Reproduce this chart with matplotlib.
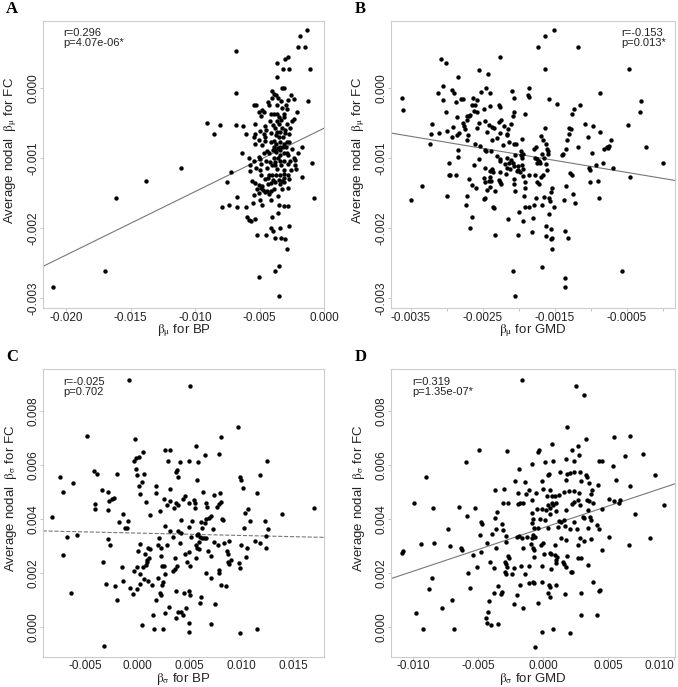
import numpy as np
import matplotlib
matplotlib.use("Agg")
import matplotlib.pyplot as plt
import matplotlib.transforms as mtransforms
from matplotlib.ticker import FixedLocator, FixedFormatter

plt.rcParams['font.family'] = ['Liberation Sans', 'DejaVu Sans']
plt.rcParams['mathtext.fontset'] = 'stix'

# panel A: beta_mu BP vs beta_mu FC
a_pts = [
    (-0.00132, 0.00082), (-0.00191, 0.00074), (-0.00201, 0.00058), (-0.00147, 0.00058),
    (-0.00682, 0.00053), (-0.00280, 0.00044), (-0.00303, 0.00041), (-0.00365, 0.00035),
    (-0.00111, 0.00027), (-0.00324, 0.00026), (-0.00275, 0.00027), (-0.00367, 0.00015),
    (-0.00687, -0.00007), (-0.00129, -0.00019), (-0.00406, -0.00004), (-0.00311, 0.00000),
    (-0.00329, -0.00001), (-0.00393, -0.00009), (-0.00372, -0.00010), (-0.00406, -0.00014),
    (-0.00360, -0.00015), (-0.00260, -0.00010), (-0.00239, -0.00016), (-0.00285, -0.00018),
    (-0.00436, -0.00021), (-0.00337, -0.00019), (-0.00528, -0.00025), (-0.00544, -0.00025),
    (-0.00429, -0.00025), (-0.00370, -0.00024), (-0.00298, -0.00025), (-0.00329, -0.00029),
    (-0.00482, -0.00032), (-0.00508, -0.00034), (-0.00464, -0.00034), (-0.00293, -0.00031),
    (-0.00411, -0.00038), (-0.00390, -0.00038), (-0.00365, -0.00038), (-0.00313, -0.00037),
    (-0.00216, -0.00035), (-0.00490, -0.00040), (-0.00349, -0.00042), (-0.00316, -0.00042),
    (-0.00239, -0.00044), (-0.00539, -0.00052), (-0.00418, -0.00047), (-0.00367, -0.00048),
    (-0.00339, -0.00046), (-0.00252, -0.00048), (-0.00685, -0.00053), (-0.00631, -0.00055),
    (-0.00457, -0.00054), (-0.00398, -0.00053), (-0.00354, -0.00052), (-0.00288, -0.00052),
    (-0.00380, -0.00058), (-0.00329, -0.00058), (-0.00303, -0.00060), (-0.00270, -0.00057),
    (-0.00495, -0.00062), (-0.00452, -0.00060), (-0.00367, -0.00063), (-0.00342, -0.00063),
    (-0.00605, -0.00066), (-0.00539, -0.00066), (-0.00470, -0.00066), (-0.00411, -0.00065),
    (-0.00375, -0.00067), (-0.00306, -0.00065), (-0.00272, -0.00066), (-0.00546, -0.00071),
    (-0.00462, -0.00071), (-0.00354, -0.00071), (-0.00321, -0.00070), (-0.00503, -0.00075),
    (-0.00462, -0.00076), (-0.00411, -0.00077), (-0.00388, -0.00076), (-0.00342, -0.00077),
    (-0.00290, -0.00077), (-0.00541, -0.00080), (-0.00482, -0.00082), (-0.00375, -0.00081),
    (-0.00313, -0.00081), (-0.00272, -0.00078), (-0.00175, -0.00085), (-0.00393, -0.00084),
    (-0.00362, -0.00086), (-0.00342, -0.00085), (-0.00324, -0.00084), (-0.00298, -0.00085),
    (-0.00444, -0.00090), (-0.00400, -0.00089), (-0.00380, -0.00089), (-0.00344, -0.00089),
    (-0.00252, -0.00088), (-0.00201, -0.00093), (-0.00639, -0.00093), (-0.00464, -0.00093),
    (-0.00426, -0.00093), (-0.00372, -0.00092), (-0.00313, -0.00093), (-0.00290, -0.00093),
    (-0.00585, -0.00100), (-0.00508, -0.00099), (-0.00495, -0.00102), (-0.00393, -0.00100),
    (-0.00362, -0.00101), (-0.00239, -0.00101), (-0.00342, -0.00096), (-0.00278, -0.00096),
    (-0.00546, -0.00104), (-0.00452, -0.00105), (-0.00421, -0.00106), (-0.00380, -0.00106),
    (-0.00347, -0.00105), (-0.00316, -0.00104), (-0.00265, -0.00104), (-0.00229, -0.00103),
    (-0.00098, -0.00107), (-0.00577, -0.00111), (-0.00488, -0.00109), (-0.00406, -0.00111),
    (-0.00385, -0.00111), (-0.00334, -0.00110), (-0.00283, -0.00109), (-0.00226, -0.00111),
    (-0.00726, -0.00121), (-0.00577, -0.00119), (-0.00528, -0.00115), (-0.00495, -0.00117),
    (-0.00444, -0.00114), (-0.00367, -0.00116), (-0.00316, -0.00117), (-0.00260, -0.00118),
    (-0.00221, -0.00116), (-0.00488, -0.00124), (-0.00426, -0.00124), (-0.00406, -0.00125),
    (-0.00375, -0.00125), (-0.00347, -0.00124), (-0.00313, -0.00123), (-0.00285, -0.00124),
    (-0.00751, -0.00134), (-0.00559, -0.00133), (-0.00534, -0.00136), (-0.00462, -0.00131),
    (-0.00436, -0.00129), (-0.00400, -0.00132), (-0.00354, -0.00132), (-0.00329, -0.00133),
    (-0.00313, -0.00129), (-0.00272, -0.00131), (-0.00170, -0.00128), (-0.00503, -0.00139),
    (-0.00482, -0.00140), (-0.00436, -0.00138), (-0.00413, -0.00136), (-0.00380, -0.00135),
    (-0.00347, -0.00137), (-0.00316, -0.00134), (-0.00521, -0.00144), (-0.00490, -0.00143),
    (-0.00475, -0.00146), (-0.00447, -0.00148), (-0.00388, -0.00144), (-0.00329, -0.00144),
    (-0.00278, -0.00143), (-0.00680, -0.00156), (-0.00544, -0.00153), (-0.00505, -0.00151),
    (-0.00457, -0.00149), (-0.00431, -0.00152), (-0.00411, -0.00148), (-0.00360, -0.00154),
    (-0.00083, -0.00157), (-0.00495, -0.00160), (-0.00411, -0.00161), (-0.00738, -0.00167),
    (-0.00680, -0.00170), (-0.00608, -0.00171), (-0.00554, -0.00165), (-0.00480, -0.00168),
    (-0.00354, -0.00167), (-0.00313, -0.00169), (-0.00283, -0.00169), (-0.00598, -0.00184),
    (-0.00580, -0.00189), (-0.00567, -0.00191), (-0.00534, -0.00187), (-0.00406, -0.00185),
    (-0.00362, -0.00179), (-0.00518, -0.00210), (-0.00452, -0.00211), (-0.00411, -0.00201),
    (-0.00400, -0.00204), (-0.00342, -0.00201), (-0.00272, -0.00198), (-0.00385, -0.00215),
    (-0.00339, -0.00215), (-0.00303, -0.00216), (-0.00290, -0.00231), (-0.00383, -0.00261),
    (-0.00349, -0.00255), (-0.00508, -0.00270), (-0.00354, -0.00297),
    (-0.02097, -0.00284), (-0.01700, -0.00262), (-0.01615, -0.00158), (-0.01380, -0.00133),
    (-0.01113, -0.00114), (-0.00905, -0.00050), (-0.00854, -0.00066), (-0.00810, -0.00053),
    (-0.00792, -0.00171),
]

# panel B: beta_mu GMD vs beta_mu FC
b_pts = [
    (-0.002255, 0.00044), (-0.003080, 0.00041), (-0.003010, 0.00035), (-0.002547, 0.00025),
    (-0.002422, 0.00019), (-0.002848, 0.00015), (-0.003056, 0.00003), (-0.002931, -0.00003),
    (-0.002894, -0.00008), (-0.003126, -0.00008), (-0.002450, 0.00000), (-0.002399, -0.00008),
    (-0.002529, -0.00006), (-0.002098, -0.00005), (-0.001853, -0.00001), (-0.001876, -0.00010),
    (-0.001862, -0.00013), (-0.003617, -0.00014), (-0.003603, -0.00032), (-0.003047, -0.00018),
    (-0.002871, -0.00021), (-0.002806, -0.00016), (-0.002779, -0.00016), (-0.002640, -0.00015),
    (-0.002584, -0.00017), (-0.002649, -0.00025), (-0.002603, -0.00025), (-0.002061, -0.00015),
    (-0.003015, -0.00035), (-0.002862, -0.00042), (-0.002723, -0.00040), (-0.002695, -0.00041),
    (-0.002677, -0.00039), (-0.002714, -0.00046), (-0.002621, -0.00033), (-0.002575, -0.00035),
    (-0.002478, -0.00031), (-0.002404, -0.00026), (-0.002279, -0.00025), (-0.002255, -0.00027),
    (-0.002547, -0.00050), (-0.002473, -0.00047), (-0.002408, -0.00053), (-0.002376, -0.00056),
    (-0.002343, -0.00057), (-0.002070, -0.00035), (-0.002084, -0.00040), (-0.001908, -0.00038),
    (-0.003200, -0.00052), (-0.002908, -0.00056), (-0.002779, -0.00051), (-0.002760, -0.00055),
    (-0.002251, -0.00046), (-0.002274, -0.00049), (-0.002200, -0.00054), (-0.002112, -0.00052),
    (-0.002144, -0.00059), (-0.003219, -0.00066), (-0.003107, -0.00065), (-0.003001, -0.00062),
    (-0.002862, -0.00067), (-0.002834, -0.00065), (-0.002709, -0.00068), (-0.002723, -0.00075),
    (-0.002742, -0.00059), (-0.002575, -0.00058), (-0.002445, -0.00063), (-0.002260, -0.00065),
    (-0.002168, -0.00066), (-0.002158, -0.00068), (-0.003228, -0.00080), (-0.002922, -0.00071),
    (-0.002371, -0.00075), (-0.002306, -0.00072), (-0.002140, -0.00077), (-0.002603, -0.00081),
    (-0.002533, -0.00083), (-0.002468, -0.00089), (-0.002455, -0.00090), (-0.002381, -0.00090),
    (-0.002214, -0.00082), (-0.002066, -0.00080), (-0.002038, -0.00080), (-0.001959, -0.00073),
    (-0.001792, -0.00087), (-0.002839, -0.00089), (-0.002839, -0.00099), (-0.002547, -0.00102),
    (-0.002306, -0.00098), (-0.002260, -0.00102), (-0.002260, -0.00105), (-0.002158, -0.00100),
    (-0.002112, -0.00103), (-0.002140, -0.00107), (-0.002080, -0.00107), (-0.002052, -0.00096),
    (-0.001973, -0.00096), (-0.001968, -0.00090), (-0.001936, -0.00094), (-0.001959, -0.00100),
    (-0.002973, -0.00107), (-0.002621, -0.00111), (-0.002468, -0.00114), (-0.002376, -0.00117),
    (-0.002404, -0.00119), (-0.002357, -0.00120), (-0.002191, -0.00109), (-0.002168, -0.00114),
    (-0.002117, -0.00116), (-0.002066, -0.00112), (-0.002005, -0.00112), (-0.002005, -0.00118),
    (-0.001950, -0.00111), (-0.001945, -0.00116), (-0.002968, -0.00124), (-0.002950, -0.00125),
    (-0.002871, -0.00124), (-0.002482, -0.00129), (-0.002399, -0.00128), (-0.002376, -0.00116),
    (-0.002255, -0.00120), (-0.002172, -0.00123), (-0.002029, -0.00119), (-0.001987, -0.00120),
    (-0.001936, -0.00126), (-0.001862, -0.00125), (-0.002691, -0.00131), (-0.002279, -0.00132),
    (-0.002265, -0.00134), (-0.002246, -0.00137), (-0.002649, -0.00139), (-0.002593, -0.00143),
    (-0.002473, -0.00135), (-0.002413, -0.00133), (-0.002385, -0.00133), (-0.002445, -0.00146),
    (-0.002399, -0.00142), (-0.002334, -0.00148), (-0.002066, -0.00137), (-0.002061, -0.00131),
    (-0.001913, -0.00135), (-0.001917, -0.00143), (-0.003348, -0.00140), (-0.002996, -0.00154),
    (-0.002714, -0.00154), (-0.002487, -0.00159), (-0.002468, -0.00157), (-0.001922, -0.00154),
    (-0.002052, -0.00148), (-0.003496, -0.00161), (-0.002728, -0.00168), (-0.002357, -0.00170),
    (-0.002348, -0.00172), (-0.001992, -0.00177), (-0.001917, -0.00170), (-0.001853, -0.00170),
    (-0.001792, -0.00168), (-0.002644, -0.00184), (-0.002154, -0.00188), (-0.001945, -0.00191),
    (-0.001806, -0.00186), (-0.002677, -0.00201), (-0.002330, -0.00211), (-0.002015, -0.00210),
    (-0.001811, -0.00206), (-0.002075, -0.00262), (-0.002052, -0.00298),
    (-0.001510, 0.00082), (-0.001639, 0.00074), (-0.001732, 0.00058), (-0.001176, 0.00058),
    (-0.001635, 0.00026), (-0.000463, 0.00027), (-0.000871, -0.00007), (-0.001579, -0.00016),
    (-0.001473, -0.00023), (-0.000297, -0.00019), (-0.000320, -0.00035), (-0.001148, -0.00025),
    (-0.001232, -0.00031), (-0.001264, -0.00038), (-0.000477, -0.00053), (-0.001079, -0.00052),
    (-0.000963, -0.00055), (-0.000871, -0.00063), (-0.001042, -0.00070), (-0.001297, -0.00058),
    (-0.001269, -0.00059), (-0.001306, -0.00066), (-0.001334, -0.00075), (-0.001343, -0.00088),
    (-0.001380, -0.00094), (-0.001399, -0.00096), (-0.001639, -0.00058), (-0.001686, -0.00069),
    (-0.001667, -0.00075), (-0.001621, -0.00080), (-0.001764, -0.00085), (-0.001612, -0.00087),
    (-0.001672, -0.00094), (-0.001598, -0.00091), (-0.001598, -0.00095), (-0.001176, -0.00085),
    (-0.000977, -0.00093), (-0.000820, -0.00087), (-0.000760, -0.00086), (-0.000746, -0.00083),
    (-0.000718, -0.00075), (-0.000773, -0.00084), (-0.000236, -0.00085), (0.000000, -0.00107),
    (-0.001774, -0.00100), (-0.001741, -0.00102), (-0.001713, -0.00104), (-0.001750, -0.00108),
    (-0.001625, -0.00109), (-0.001612, -0.00118), (-0.001704, -0.00107), (-0.001644, -0.00100),
    (-0.000824, -0.00107), (-0.000695, -0.00114), (-0.000931, -0.00111), (-0.001024, -0.00114),
    (-0.001005, -0.00118), (-0.001287, -0.00122), (-0.001260, -0.00124), (-0.000454, -0.00128),
    (-0.000903, -0.00133), (-0.001014, -0.00135), (-0.001778, -0.00125), (-0.001741, -0.00135),
    (-0.001723, -0.00137), (-0.001686, -0.00128), (-0.001667, -0.00124), (-0.001533, -0.00143),
    (-0.001556, -0.00149), (-0.001343, -0.00141), (-0.001241, -0.00152), (-0.001213, -0.00164),
    (-0.001366, -0.00160), (-0.001764, -0.00158), (-0.001653, -0.00156), (-0.001574, -0.00157),
    (-0.001561, -0.00162), (-0.000885, -0.00157), (-0.001681, -0.00167), (-0.001510, -0.00171),
    (-0.001584, -0.00180), (-0.001616, -0.00198), (-0.001556, -0.00202), (-0.001556, -0.00216),
    (-0.001621, -0.00212), (-0.001537, -0.00215), (-0.001533, -0.00231), (-0.001357, -0.00205),
    (-0.001311, -0.00215), (-0.001681, -0.00256), (-0.000565, -0.00262), (-0.001352, -0.00271),
    (-0.001352, -0.00284),
]

# panel C: beta_sigma BP vs beta_sigma FC
c_pts = [
    (-0.000802, 0.009167), (-0.004840, 0.007089), (-0.000193, 0.006977), (0.002628, 0.006557),
    (0.003109, 0.006557), (0.000512, 0.006470), (0.000128, 0.006309), (-0.000097, 0.006247),
    (-0.000289, 0.006148), (0.002981, 0.006148), (0.004134, 0.006111), (-0.004135, 0.005777),
    (-0.003847, 0.005654), (-0.001924, 0.005678), (-0.000161, 0.005852), (-0.000065, 0.005629),
    (0.000641, 0.005654), (0.003814, 0.005802), (0.003942, 0.005567), (0.003717, 0.005753),
    (-0.007404, 0.005567), (-0.006218, 0.005320), (-0.007180, 0.005011), (0.000448, 0.005357),
    (0.000192, 0.005233), (0.000224, 0.004936), (-0.003398, 0.005072), (-0.002821, 0.005011),
    (0.001826, 0.005233), (0.001794, 0.004973), (0.003109, 0.005109), (-0.002436, 0.004726),
    (-0.002212, 0.004763), (-0.002757, 0.004652), (-0.004039, 0.004553), (-0.004103, 0.004367),
    (0.000833, 0.004640), (0.002532, 0.004726), (0.002852, 0.004516), (0.003173, 0.004664),
    (0.003493, 0.004417), (0.003750, 0.004577), (0.003910, 0.004516), (-0.002821, 0.004342),
    (0.002179, 0.004293), (0.001217, 0.004145), (-0.001411, 0.004182), (-0.008173, 0.004058),
    (-0.001795, 0.003897), (-0.000866, 0.003909), (-0.001218, 0.003650), (-0.000994, 0.003650),
    (0.002692, 0.003724), (0.003109, 0.003563), (0.003878, 0.003551), (-0.006763, 0.003328),
    (-0.005834, 0.003390), (-0.002821, 0.003266), (-0.002597, 0.003031), (0.003397, 0.003316),
    (0.002083, 0.003303), (0.000256, 0.003068), (0.001057, 0.002920), (0.001250, 0.002870),
    (0.001955, 0.003031), (0.002852, 0.003031), (0.002307, 0.002932), (0.004134, 0.003118),
    (0.000032, 0.002821), (0.000705, 0.002697), (0.000929, 0.002475), (0.001089, 0.002536),
    (0.002275, 0.002611), (0.003589, 0.002561), (-0.007148, 0.002648), (-0.003334, 0.002413),
    (-0.001475, 0.002202), (-0.000289, 0.002079), (-0.000065, 0.002215), (0.000544, 0.002227),
    (0.000801, 0.002289), (0.000897, 0.002413), (0.002371, 0.002240), (0.002596, 0.002240),
    (0.003461, 0.002066), (0.003621, 0.002141), (0.003782, 0.002240), (0.002628, 0.001943),
    (0.000256, 0.001943), (0.000673, 0.001770), (0.001057, 0.001695), (0.001442, 0.001547),
    (0.002019, 0.001794), (0.002467, 0.001671), (0.002403, 0.001547), (-0.003013, 0.001584),
    (-0.002180, 0.001522), (-0.001347, 0.001683), (-0.000738, 0.001436), (-0.000065, 0.001386),
    (-0.000417, 0.001200), (0.000288, 0.001596), (-0.006411, 0.001262), (0.002147, 0.001250),
    (0.002307, 0.001176), (0.003750, 0.001324), (-0.001988, 0.000990), (0.001826, 0.000978),
    (0.003013, 0.000718), (0.002628, 0.000496), (0.003878, 0.000533), (0.003750, 0.000335),
    (0.001474, 0.000446), (0.000480, 0.000075), (0.001570, -0.000086), (0.002500, -0.000098),
    (-0.003238, -0.000729),
    (0.005064, 0.008919), (0.009712, 0.007410), (0.008077, 0.007039), (0.005673, 0.006717),
    (0.007885, 0.006396), (0.006475, 0.006359), (0.005000, 0.006148), (0.005834, 0.006124),
    (0.012500, 0.006148), (0.011763, 0.005617), (0.009904, 0.005567), (0.009968, 0.005431),
    (0.010193, 0.005159), (0.005738, 0.005431), (0.011507, 0.004973), (0.006282, 0.004986),
    (0.007340, 0.004874), (0.007981, 0.004961), (0.004391, 0.004726), (0.004584, 0.004862),
    (0.005000, 0.004602), (0.005481, 0.004701), (0.005545, 0.004602), (0.005545, 0.004392),
    (0.006603, 0.004577), (0.006667, 0.004454), (0.007821, 0.004540), (0.008013, 0.004615),
    (0.007693, 0.004454), (0.010641, 0.004380), (0.010385, 0.004206), (0.013974, 0.004182),
    (0.017019, 0.004392), (0.004199, 0.003971), (0.005289, 0.003922), (0.006122, 0.003872),
    (0.006539, 0.003848), (0.007116, 0.004120), (0.006859, 0.004046), (0.006571, 0.003996),
    (0.006218, 0.003650), (0.008173, 0.003996), (0.008237, 0.003959), (0.010802, 0.003922),
    (0.012244, 0.003922), (0.004936, 0.003711), (0.007308, 0.003637), (0.010289, 0.003650),
    (0.012596, 0.003613), (0.004231, 0.003464), (0.005161, 0.003328), (0.005705, 0.003415),
    (0.005866, 0.003427), (0.006058, 0.003340), (0.006218, 0.003279), (0.006379, 0.003279),
    (0.006571, 0.003303), (0.005898, 0.003155), (0.005673, 0.003031), (0.005738, 0.002907),
    (0.007340, 0.003155), (0.007757, 0.003031), (0.008302, 0.003093), (0.008846, 0.003192),
    (0.010000, 0.003031), (0.011346, 0.003180), (0.011827, 0.003106), (0.012340, 0.003378),
    (0.012404, 0.002932), (0.004936, 0.002784), (0.004584, 0.002685), (0.005898, 0.002883),
    (0.006763, 0.002809), (0.007116, 0.002635), (0.010513, 0.002932), (0.008622, 0.002821),
    (0.008718, 0.002697), (0.009039, 0.002487), (0.008686, 0.002413), (0.008782, 0.002339),
    (0.005641, 0.002561), (0.004808, 0.002388), (0.005097, 0.002264), (0.010449, 0.002586),
    (0.009744, 0.002363), (0.009872, 0.002165), (0.006603, 0.002004), (0.007853, 0.002116),
    (0.007885, 0.001980), (0.007084, 0.001794), (0.008013, 0.001534), (0.008526, 0.001497),
    (0.004456, 0.001250), (0.005000, 0.001337), (0.005032, 0.001188), (0.006090, 0.001114),
    (0.006026, 0.000879), (0.007436, 0.000842), (0.004648, 0.000706), (0.004199, 0.000557),
    (0.004423, 0.000434), (0.005000, 0.000149), (0.007084, 0.000087), (0.005000, -0.000185),
    (0.009840, -0.000247), (0.011507, -0.000098),
]

# panel D: beta_sigma GMD vs beta_sigma FC
d_pts = [
    (-0.001660, 0.009167), (-0.004906, 0.006557), (-0.002785, 0.006520), (-0.005928, 0.006124),
    (-0.008970, 0.005567), (-0.001890, 0.005852), (-0.002171, 0.005406), (-0.001379, 0.005357),
    (-0.003730, 0.005072), (-0.003040, 0.005097), (-0.001941, 0.004973), (-0.001327, 0.004936),
    (-0.001072, 0.005060), (-0.009916, 0.004577), (-0.008433, 0.004392), (-0.006465, 0.004454),
    (-0.005238, 0.004392), (-0.005877, 0.004120), (-0.003091, 0.004602), (-0.002682, 0.004577),
    (-0.001916, 0.004553), (-0.001788, 0.004577), (-0.001532, 0.004602), (-0.003551, 0.004268),
    (-0.003730, 0.004046), (-0.007309, 0.003625), (-0.004778, 0.003872), (-0.004727, 0.003798),
    (-0.004829, 0.003415), (-0.003909, 0.003439), (-0.003602, 0.003613), (-0.003193, 0.003823),
    (-0.003066, 0.003588), (-0.002836, 0.003365), (-0.002043, 0.003340), (-0.001890, 0.003353),
    (-0.001609, 0.003291), (-0.001276, 0.003328), (-0.009353, 0.003056), (-0.008357, 0.003093),
    (-0.007181, 0.002994), (-0.006337, 0.002932), (-0.006261, 0.002833), (-0.005417, 0.002660),
    (-0.004804, 0.002784), (-0.004344, 0.003093), (-0.003628, 0.002907), (-0.002836, 0.003155),
    (-0.010836, 0.002747), (-0.010785, 0.002809), (-0.001583, 0.002907), (-0.002734, 0.002623),
    (-0.002606, 0.002561), (-0.002912, 0.002388), (-0.002836, 0.002314), (-0.002810, 0.002202),
    (-0.005059, 0.002215), (-0.004063, 0.002413), (-0.003756, 0.002190), (-0.002222, 0.002190),
    (-0.001711, 0.002252), (-0.001072, 0.002240), (-0.005775, 0.001992), (-0.002938, 0.002042),
    (-0.002861, 0.001968), (-0.002401, 0.001943), (-0.001404, 0.001943), (-0.008510, 0.001794),
    (-0.005622, 0.001448), (-0.001788, 0.001547), (-0.001072, 0.001609), (-0.008791, 0.001386),
    (-0.003475, 0.001510), (-0.003193, 0.001300), (-0.003245, 0.001200), (-0.003756, 0.001262),
    (-0.002018, 0.001176), (-0.004190, 0.000965), (-0.002274, 0.000842), (-0.001583, 0.000706),
    (-0.007027, 0.000990), (-0.007743, 0.000706), (-0.009788, 0.000508), (-0.004216, 0.000557),
    (-0.004369, 0.000335), (-0.004318, 0.000149), (-0.004011, 0.000050), (-0.003500, 0.000100),
    (-0.009251, -0.000098), (-0.006849, -0.000098),
    (0.002507, 0.008919), (0.003121, 0.008598), (0.001792, 0.007410), (0.000641, 0.006767),
    (0.003249, 0.006965), (0.005396, 0.007039), (0.006674, 0.007089), (-0.000304, 0.006544),
    (-0.000407, 0.006495), (0.002226, 0.006557), (0.002635, 0.006705), (0.002737, 0.006359),
    (-0.000892, 0.006050), (0.000130, 0.006124), (0.000744, 0.006148), (0.001740, 0.006210),
    (0.002379, 0.006148), (0.007619, 0.006396), (0.006290, 0.006322), (0.005319, 0.005951),
    (0.005549, 0.005443), (0.006648, 0.005233), (0.008539, 0.005629), (0.004296, 0.006136),
    (0.004527, 0.006148), (0.000335, 0.005641), (0.000462, 0.005678), (0.001280, 0.005753),
    (0.001817, 0.005654), (0.002073, 0.005691), (0.002354, 0.005753), (0.002788, 0.005753),
    (0.003274, 0.005629), (0.003325, 0.005567), (0.004169, 0.005258), (0.003530, 0.005320),
    (-0.000074, 0.005406), (0.001740, 0.005431), (0.002891, 0.005419), (-0.000560, 0.004973),
    (-0.000049, 0.005097), (0.000284, 0.004850), (0.000514, 0.005072), (0.000693, 0.004850),
    (0.000923, 0.004862), (0.001178, 0.004887), (0.001587, 0.005011), (0.001971, 0.005035),
    (0.002328, 0.005035), (0.002712, 0.004961), (-0.000892, 0.004701), (0.000386, 0.004516),
    (0.000693, 0.004590), (0.000769, 0.004503), (0.000974, 0.004577), (0.001715, 0.004330),
    (0.002175, 0.004540), (0.002354, 0.004640), (0.002635, 0.004701), (0.002814, 0.004516),
    (0.003325, 0.004713), (0.003479, 0.004664), (0.003683, 0.004924), (0.003734, 0.005085),
    (0.003811, 0.004577), (0.005038, 0.004738), (0.005396, 0.004664), (0.005881, 0.004689),
    (0.005830, 0.004602), (0.004501, 0.004355), (0.003402, 0.004342), (-0.000509, 0.004367),
    (-0.000125, 0.004367), (0.000207, 0.004330), (0.000514, 0.004392), (0.000974, 0.004293),
    (-0.000892, 0.004206), (-0.000790, 0.003996), (-0.000867, 0.003835), (-0.000253, 0.003996),
    (0.000514, 0.004169), (0.000130, 0.003959), (0.001229, 0.003922), (0.001332, 0.003897),
    (0.001562, 0.003947), (0.002328, 0.003897), (0.003070, 0.004083), (0.003121, 0.004021),
    (0.003581, 0.004083), (0.003658, 0.003947), (0.004143, 0.003773), (0.004245, 0.003625),
    (-0.000688, 0.003674), (-0.000432, 0.003674), (0.000335, 0.003650), (0.001101, 0.003711),
    (0.001638, 0.003736), (0.002022, 0.003637), (0.002584, 0.003637), (0.003427, 0.003650),
    (0.007031, 0.004169), (0.008156, 0.003291), (0.006571, 0.003031), (0.005038, 0.003328),
    (0.009230, 0.004503), (-0.000816, 0.003402), (-0.000662, 0.003328), (-0.000892, 0.003279),
    (-0.000943, 0.003081), (-0.000177, 0.003031), (-0.000049, 0.003093), (0.000897, 0.003031),
    (0.001332, 0.003303), (0.001715, 0.003217), (0.002814, 0.003279), (0.003121, 0.003180),
    (0.003658, 0.003254), (0.002635, 0.003031), (-0.000688, 0.002846), (-0.000790, 0.002932),
    (0.000054, 0.002697), (0.000590, 0.002685), (0.000514, 0.002722), (0.000897, 0.002660),
    (0.001025, 0.002598), (0.001843, 0.002623), (0.002686, 0.002536), (0.002865, 0.002561),
    (0.004475, 0.002846), (-0.000739, 0.002586), (-0.000125, 0.002264), (0.000616, 0.002153),
    (0.000948, 0.002475), (0.000974, 0.002376), (0.001536, 0.002388), (0.001613, 0.002314),
    (0.001715, 0.002215), (0.002098, 0.002042), (0.002226, 0.002017), (0.003453, 0.002277),
    (-0.000764, 0.001671), (-0.000713, 0.001609), (-0.000125, 0.001671), (0.000437, 0.001547),
    (0.000539, 0.001473), (0.000999, 0.001547), (0.003836, 0.001671), (0.004348, 0.001349),
    (0.004271, 0.001324), (0.000335, 0.001262), (0.000514, 0.001114), (0.001689, 0.001200),
    (0.002891, 0.001237), (-0.000381, 0.000879), (0.002865, 0.000434), (0.004118, 0.000421),
    (-0.000125, -0.000185), (0.000769, -0.000098), (0.002022, -0.000247), (-0.000637, -0.000742),
]

# axis ticks (labels blanked where R drops overlapping ones)
a_xticks = [-0.020, -0.015, -0.010, -0.005, 0.000]
a_xlabels = ['-0.020', '-0.015', '-0.010', '-0.005', '0.000']
mu_yticks = [0.000, -0.001, -0.002, -0.003]
mu_ylabels = ['0.000', '-0.001', '-0.002', '-0.003']
b_xticks = [-0.0035, -0.0030, -0.0025, -0.0020, -0.0015, -0.0010, -0.0005, 0.0]
b_xlabels = ['-0.0035', '', '-0.0025', '', '-0.0015', '', '-0.0005', '']
c_xticks = [-0.005, 0.000, 0.005, 0.010, 0.015]
c_xlabels = ['-0.005', '0.000', '0.005', '0.010', '0.015']
sig_yticks = [0.000, 0.002, 0.004, 0.006, 0.008]
sig_ylabels = ['0.000', '0.002', '0.004', '0.006', '0.008']
d_xticks = [-0.010, -0.005, 0.000, 0.005, 0.010]
d_xlabels = ['-0.010', '-0.005', '0.000', '0.005', '0.010']

mu_sym = r'$\mathrm{\beta}_{\mathrm{\mu}}$'
sig_sym = r'$\mathrm{\beta}_{\mathrm{\sigma}}$'

panels = [
    dict(letter='A', pts=a_pts, rect=[0.063, 0.5512, 0.4155, 0.4187],
         xlim=(-0.0218, 0.0), ylim=(-0.00315, 0.000957),
         xt=a_xticks, xl=a_xlabels, yt=mu_yticks, yl=mu_ylabels,
         xlabel=mu_sym + ' for BP', ylabel='Average nodal  ' + mu_sym + ' for FC',
         stats=('r=0.296', 'p=4.07e-06*'), spos=(0.072, 0.975), ls='-'),
    dict(letter='B', pts=b_pts, rect=[0.5771, 0.5512, 0.418, 0.4187],
         xlim=(-0.00377, 0.000167), ylim=(-0.00315, 0.000957),
         xt=b_xticks, xl=b_xlabels, yt=mu_yticks, yl=mu_ylabels,
         xlabel=mu_sym + ' for GMD', ylabel='Average nodal  ' + mu_sym + ' for FC',
         stats=('r=-0.153', 'p=0.013*'), spos=(0.81, 0.975), ls='-'),
    dict(letter='C', pts=c_pts, rect=[0.063, 0.0441, 0.4155, 0.4183],
         xlim=(-0.00911, 0.01801), ylim=(-0.001113, 0.00955),
         xt=c_xticks, xl=c_xlabels, yt=sig_yticks, yl=sig_ylabels,
         xlabel=sig_sym + ' for BP', ylabel='Average nodal  ' + sig_sym + ' for FC',
         stats=('r=-0.025', 'p=0.702'), spos=(0.072, 0.975), ls='--'),
    dict(letter='D', pts=d_pts, rect=[0.5771, 0.0441, 0.418, 0.4183],
         xlim=(-0.011656, 0.010077), ylim=(-0.001113, 0.00955),
         xt=d_xticks, xl=d_xlabels, yt=sig_yticks, yl=sig_ylabels,
         xlabel=sig_sym + ' for GMD', ylabel='Average nodal  ' + sig_sym + ' for FC',
         stats=('r=0.319', 'p=1.35e-07*'), spos=(0.073, 0.975), ls='-'),
]

fig = plt.figure(figsize=(6.78, 6.87), dpi=100)

for p in panels:
    ax = fig.add_axes(p['rect'])
    xy = np.array(p['pts'])
    ax.scatter(xy[:, 0], xy[:, 1], s=10, c='black', linewidths=0, zorder=3)

    # least-squares fit drawn across the whole panel
    slope, icept = np.polyfit(xy[:, 0], xy[:, 1], 1)
    xs = np.array(p['xlim'])
    ax.plot(xs, slope * xs + icept, color='#777777', lw=0.8, ls=p['ls'], zorder=2)

    ax.set_xlim(p['xlim'])
    ax.set_ylim(p['ylim'])
    ax.xaxis.set_major_locator(FixedLocator(p['xt']))
    ax.xaxis.set_major_formatter(FixedFormatter(p['xl']))
    ax.yaxis.set_major_locator(FixedLocator(p['yt']))
    ax.yaxis.set_major_formatter(FixedFormatter(p['yl']))
    ax.tick_params(direction='out', length=2, width=0.6, color='#bbbbbb',
                   labelsize=8.5, labelcolor='#222222', pad=0.5)
    for lab in ax.get_yticklabels():
        lab.set_rotation(90)
        lab.set_va('center')
    for sp in ax.spines.values():
        sp.set_color('#cccccc')
        sp.set_linewidth(0.8)

    ax.set_xlabel(p['xlabel'], fontsize=9.5, color='#222222', labelpad=-1)
    ax.set_ylabel(p['ylabel'], fontsize=9.5, color='#222222')
    ax.yaxis.set_label_coords(-0.085, 0.55)

    sx, sy = p['spos']
    ax.text(sx, sy, p['stats'][0] + '\n' + p['stats'][1], transform=ax.transAxes,
            ha='left', va='top', fontsize=8, color='#222222', linespacing=1.05)

    ax.text(-0.13, 1.07, p['letter'], transform=ax.transAxes, ha='left', va='top',
            fontsize=12, fontweight='bold', family='Liberation Serif')

    if p['letter'] == 'D':
        # keep the last tick label inside the figure, as in the source
        last = ax.get_xticklabels()[-1]
        last.set_transform(last.get_transform() +
                           mtransforms.ScaledTranslation(-10 / 72, 0, fig.dpi_scale_trans))

fig.savefig('out.png', dpi=100)
